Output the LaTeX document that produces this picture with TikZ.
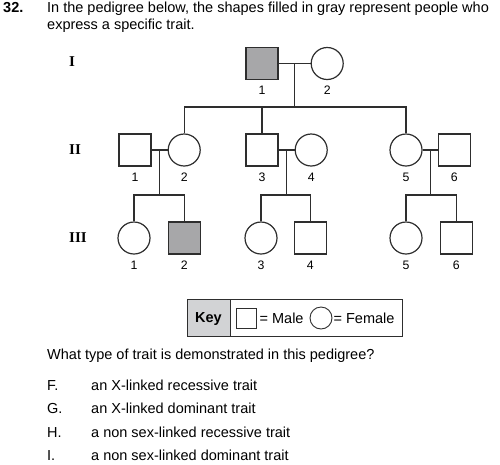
\documentclass[tikz,border=0pt]{standalone}
\usepackage{fontspec}
\setmainfont{Liberation Sans}
\newfontfamily\genfont{Liberation Serif}
\usetikzlibrary{positioning,calc}
\definecolor{affgray}{HTML}{A7A7A9}
\definecolor{keygray}{HTML}{D2D3D5}
\definecolor{pedline}{HTML}{2E2E2E}

\begin{document}
\begin{tikzpicture}[x=1pt, y=-1pt,
                    node distance=16pt,
                    male/.style={draw=pedline, line width=1.2pt, rectangle, minimum size=32pt, inner sep=0pt, fill=white},
                    female/.style={draw=pedline, line width=1.2pt, circle, minimum size=32pt, inner sep=0pt, fill=white},
                    affected/.style={fill=affgray},
                    num/.style={inner sep=0pt, font=\fontsize{12.3}{13}\selectfont},
                    gen/.style={inner sep=0pt, anchor=base west, font=\genfont\bfseries\fontsize{15}{16}\selectfont},
                    txt/.style={inner sep=0pt, anchor=base west, font=\fontsize{14.5}{17}\selectfont},
                    keytxt/.style={inner sep=0pt, text height=10.4pt, text depth=0pt, font=\fontsize{14.5}{17}\selectfont},
                    link/.style={draw=pedline, line width=1.1pt}
                ]
                \useasboundingbox (0,0) rectangle (500,464);

                % Question
                \node[txt, font=\bfseries\fontsize{14.5}{17}\selectfont] (qnum) at (3,12.5) {32.};
                \node[txt] (q1) at (47,12.5) {In the pedigree below, the shapes filled in gray represent people who};
                \node[txt] (q2) at (47,29.5) {express a specific trait.};

                % Generation labels
                \node[gen] (gen1) at (69,66) {I};
                \node[gen] (gen2) at (69,154) {II};
                \node[gen] (gen3) at (69,242) {III};

                % Generation I
                \node[male, affected] (i1) at (262,63.5) {};
                \node[female, right=32pt of i1] (i2) {};

                % Generation II
                \node[male] (ii1) at (135,150) {};
                \node[female, right=of ii1] (ii2) {};
                \node[male] (ii3) at (262,150) {};
                \node[female, right=of ii3] (ii4) {};
                \node[female] (ii5) at (406,150) {};
                \node[male, right=15pt of ii5] (ii6) {};

                % Generation III
                \node[female] (iii1) at (134,238) {};
                \node[male, affected, right=17pt of iii1] (iii2) {};
                \node[female] (iii3) at (261,238) {};
                \node[male, right=of iii3] (iii4) {};
                \node[female] (iii5) at (406,238) {};
                \node[male, right=17pt of iii5] (iii6) {};

                % Numbers
                \node[num, below=6pt of i1] (n-i1) {1};
                \node[num, below=6pt of i2] (n-i2) {2};
                \node[num, below=6pt of ii1] (n-ii1) {1};
                \node[num, below=6pt of ii2] (n-ii2) {2};
                \node[num, below=6pt of ii3] (n-ii3) {3};
                \node[num, below=6pt of ii4] (n-ii4) {4};
                \node[num, below=6pt of ii5] (n-ii5) {5};
                \node[num, below=6pt of ii6] (n-ii6) {6};
                \node[num, below=6.5pt of iii1] (n-iii1) {1};
                \node[num, below=6.5pt of iii2] (n-iii2) {2};
                \node[num, below=6.5pt of iii3] (n-iii3) {3};
                \node[num, below=6.5pt of iii4] (n-iii4) {4};
                \node[num, below=6.5pt of iii5] (n-iii5) {5};
                \node[num, below=6.5pt of iii6] (n-iii6) {6};

                % Connections
                \draw[link] (i1) -- (i2);
                \coordinate (m1) at ($(i1.east)!0.5!(i2.west)$);
                \coordinate (sib1) at (m1 |- 0,107);
                \draw[link] (m1) -- (sib1);
                \draw[link] (ii2.north) -- (ii2.north |- sib1) -- (ii5.north |- sib1) -- (ii5.north);
                \draw[link] (ii3.north) -- (ii3.north |- sib1);

                \draw[link] (ii1) -- (ii2);
                \coordinate (m2) at ($(ii1.east)!0.5!(ii2.west)$);
                \coordinate (sib2) at (m2 |- 0,195);
                \draw[link] (m2) -- (sib2);
                \draw[link] (iii1.north) -- (iii1.north |- sib2) -- (iii2.north |- sib2) -- (iii2.north);

                \draw[link] (ii3) -- (ii4);
                \coordinate (m3) at ($(ii3.east)!0.5!(ii4.west)$);
                \coordinate (sib3) at (m3 |- 0,195);
                \draw[link] (m3) -- (sib3);
                \draw[link] (iii3.north) -- (iii3.north |- sib3) -- (iii4.north |- sib3) -- (iii4.north);

                \draw[link] (ii5) -- (ii6);
                \coordinate (m4) at ($(ii5.east)!0.5!(ii6.west)$);
                \coordinate (sib4) at (m4 |- 0,195);
                \draw[link] (m4) -- (sib4);
                \draw[link] (iii5.north) -- (iii5.north |- sib4) -- (iii6.north |- sib4) -- (iii6.north);

                % Key
                \node[draw=pedline, line width=0.9pt, minimum width=215pt, minimum height=37pt, inner sep=0pt] (keybox) at (294.5,317.5) {};
                \node[draw=pedline, line width=0.9pt, fill=keygray, minimum width=43pt, minimum height=37pt, inner sep=0pt, anchor=west,
                      text height=10.4pt, text depth=0pt, font=\bfseries\fontsize{14.5}{17}\selectfont] (keyhead) at (keybox.west) {Key};
                \node[male, minimum size=20pt, line width=0.9pt] (keymale) at (246,318.5) {};
                \node[keytxt, right=3pt of keymale] (keymaletxt) {= Male};
                \node[female, minimum size=22pt, line width=0.9pt] (keyfemale) at (321,318) {};
                \node[keytxt, right=1pt of keyfemale] (keyfemaletxt) {= Female};

                % Answers
                \node[txt] (ask) at (47,359.3) {What type of trait is demonstrated in this pedigree?};
                \node[txt] (optF) at (47,390) {F.};
                \node[txt] (ansF) at (91,390) {an X-linked recessive trait};
                \node[txt] (optG) at (47,413.5) {G.};
                \node[txt] (ansG) at (91,413.5) {an X-linked dominant trait};
                \node[txt] (optH) at (47,437) {H.};
                \node[txt] (ansH) at (91,437) {a non sex-linked recessive trait};
                \node[txt] (optI) at (47,460) {I.};
                \node[txt] (ansI) at (91,460) {a non sex-linked dominant trait};
\end{tikzpicture}
\end{document}
